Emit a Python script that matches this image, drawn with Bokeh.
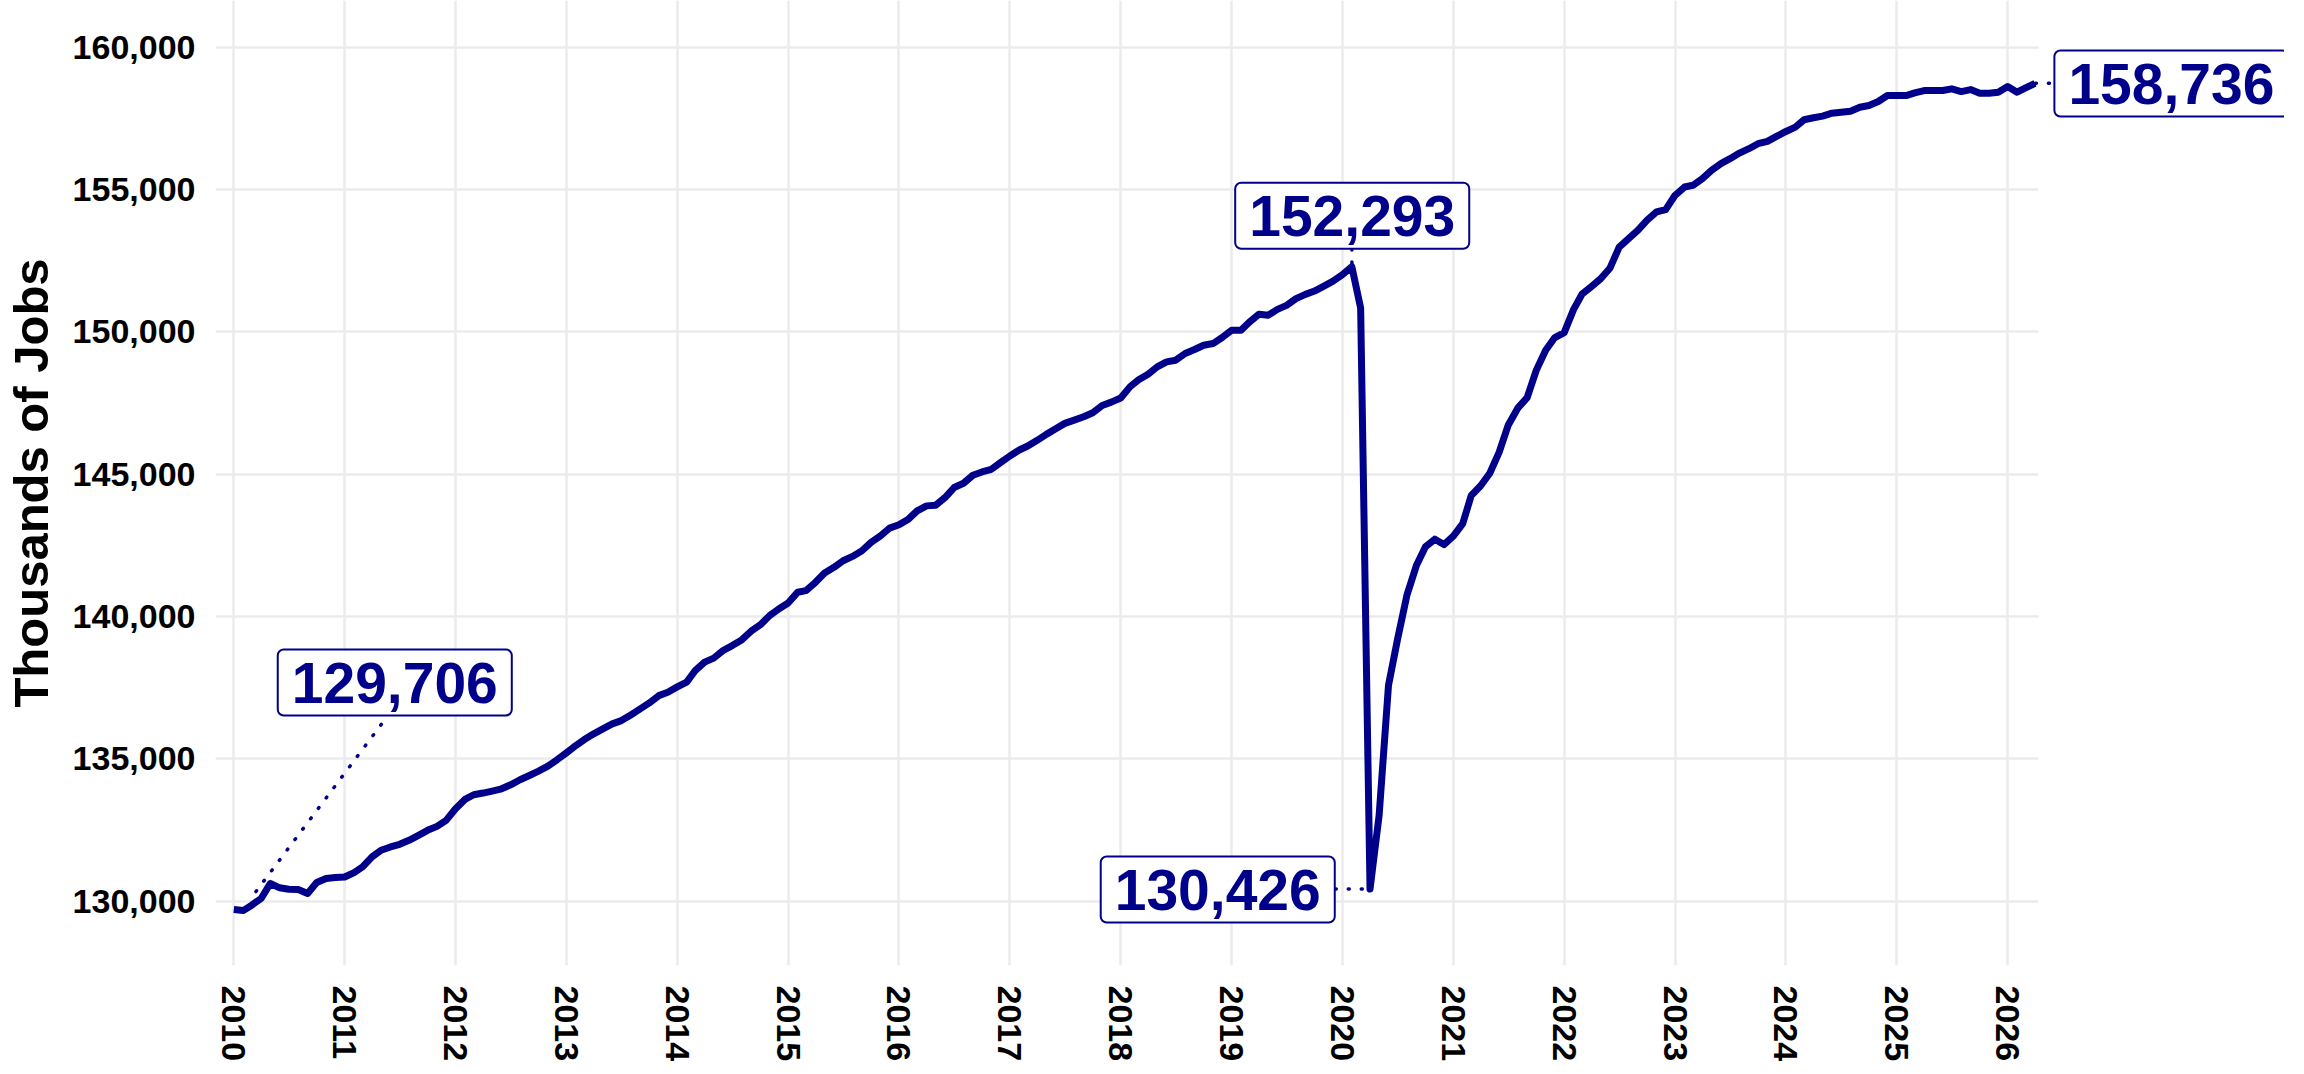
import pandas as pd
from bokeh.plotting import figure
from bokeh.models import Range1d, FixedTicker, NumeralTickFormatter, Label
from bokeh.embed import file_html
from bokeh.resources import INLINE

# Total nonfarm employment, thousands of jobs, monthly from Jan 2010
start_month = "2010-01-01"
jobs = [
    129706, 129670, 129860, 130095, 130620, 130470, 130420, 130410, 130270, 130655, 130800, 130830,
    130850, 131005, 131205, 131556, 131790, 131906, 131998, 132140, 132314, 132490, 132630, 132840,
    133250, 133576, 133740, 133800, 133870, 133950, 134090, 134267, 134418, 134572, 134747, 134968,
    135213, 135470, 135680, 135880, 136055, 136230, 136346, 136546, 136756, 136966, 137222, 137340,
    137530, 137700, 138100, 138400, 138540, 138807, 138982, 139181, 139486, 139707, 140034, 140268,
    140479, 140853, 140910, 141204, 141530, 141730, 141962, 142115, 142312, 142606, 142838, 143107,
    143224, 143423, 143714, 143890, 143913, 144183, 144534, 144685, 144965, 145081, 145175, 145410,
    145642, 145852, 145992, 146192, 146402, 146600, 146788, 146904, 147022, 147162, 147418, 147534,
    147680, 148080, 148320, 148517, 148773, 148948, 149008, 149243, 149383, 149534, 149593, 149804,
    150060, 150060, 150350, 150620, 150585, 150795, 150935, 151170, 151321, 151437, 151612, 151787,
    152012, 152293, 150840, 130426, 133015, 137589, 139212, 140761, 141791, 142457, 142720, 142531,
    142825, 143267, 144255, 144595, 145037, 145776, 146733, 147322, 147694, 148651, 149359, 149804,
    149979, 150792, 151335, 151601, 151868, 152250, 152980, 153280, 153575, 153926, 154217, 154300,
    154802, 155093, 155153, 155387, 155678, 155913, 156088, 156285, 156439, 156614, 156695, 156870,
    157045, 157196, 157455, 157525, 157582, 157687, 157722, 157757, 157897, 157957, 158097, 158307,
    158307, 158307, 158400, 158482, 158482, 158482, 158542, 158447, 158517, 158388, 158388, 158423,
    158623, 158423, 158577, 158736,
]

year_ticks = list(range(2010, 2027))
value_ticks = [130000, 135000, 140000, 145000, 150000, 155000, 160000]

# callout labels: text and box centre (decimal year, value)
label_text = ["129,706", "152,293", "130,426", "158,736"]
label_x = [2011.452, 2020.088, 2018.875, 2027.477]
label_y = [137683, 154084, 130410, 158728]
# dotted leader lines from point to label
lead_x0 = [2010.20, 2020.085, 2019.935, 2026.25]
lead_y0 = [130340, 152420, 130426, 158736]
lead_x1 = [2011.381, 2020.085, 2020.19, 2026.42]
lead_y1 = [136474, 152899, 130426, 158736]

NAVY = "#00008B"
FONT = "Liberation Sans"
PANEL_X = (2009.835, 2026.277)   # extent of the gridded panel

dates = pd.date_range(start_month, periods=len(jobs), freq="MS")
xdec = list(dates.year + (dates.dayofyear - 1) / (365 + dates.is_leap_year.astype(int)))

p = figure(width=2284, height=1064, output_backend="svg", toolbar_location=None,
           x_range=Range1d(PANEL_X[0], 2028.497), y_range=Range1d(127741, 161646),
           min_border_left=208, min_border_right=0, min_border_top=0, min_border_bottom=96)
p.outline_line_color = None
p.background_fill_color = "white"
p.border_fill_color = "white"

p.xaxis.ticker = FixedTicker(ticks=year_ticks)
p.yaxis.ticker = FixedTicker(ticks=value_ticks)
p.xaxis.formatter = NumeralTickFormatter(format="0")
p.yaxis.formatter = NumeralTickFormatter(format="0,0")
p.xgrid.ticker = FixedTicker(ticks=year_ticks)
p.ygrid.ticker = FixedTicker(ticks=value_ticks)
p.grid.grid_line_color = "#EBEBEB"
p.grid.grid_line_width = 2.5
p.grid.minor_grid_line_color = None

if "cross_bounds" in p.ygrid[0].properties():
    p.ygrid.cross_bounds = PANEL_X
else:
    p.ygrid.visible = False
    p.segment(x0=[PANEL_X[0]] * len(value_ticks), y0=value_ticks,
              x1=[PANEL_X[1]] * len(value_ticks), y1=value_ticks,
              line_color="#EBEBEB", line_width=2.5, level="underlay")

for ax in (p.xaxis, p.yaxis):
    ax.axis_line_color = None
    ax.major_tick_line_color = None
    ax.minor_tick_line_color = None
    ax.major_tick_out = 0
    ax.major_tick_in = 0
    ax.minor_tick_out = 0
    ax.minor_tick_in = 0
    ax.major_label_text_font = FONT
    ax.major_label_text_font_style = "bold"
    ax.major_label_text_color = "black"

p.yaxis.major_label_text_font_size = "34px"
p.xaxis.major_label_text_font_size = "34px"
p.xaxis.major_label_orientation = "vertical"
p.xaxis.major_label_standoff = 20
p.yaxis.major_label_standoff = 20
p.yaxis.axis_label = "Thousands of Jobs"
p.yaxis.axis_label_text_font = FONT
p.yaxis.axis_label_text_font_style = "bold"
p.yaxis.axis_label_text_font_size = "49px"
p.yaxis.axis_label_text_color = "black"
p.yaxis.axis_label_standoff = 12

p.line(xdec, jobs, line_color=NAVY, line_width=7, line_join="round")

p.segment(lead_x0, lead_y0, lead_x1, lead_y1, line_color=NAVY, line_width=3.5,
          line_dash="1 12", line_cap="round")

for t, lx, ly in zip(label_text, label_x, label_y):
    p.add_layout(Label(x=lx, y=ly, text=t, text_align="center", text_baseline="middle",
                       text_font=FONT, text_font_style="bold", text_font_size="57px",
                       text_color=NAVY, background_fill_color="white",
                       border_line_color=NAVY, border_line_width=2, border_radius=6,
                       padding=(14, 13)))

open("out.html", "w").write(file_html(p, INLINE))
